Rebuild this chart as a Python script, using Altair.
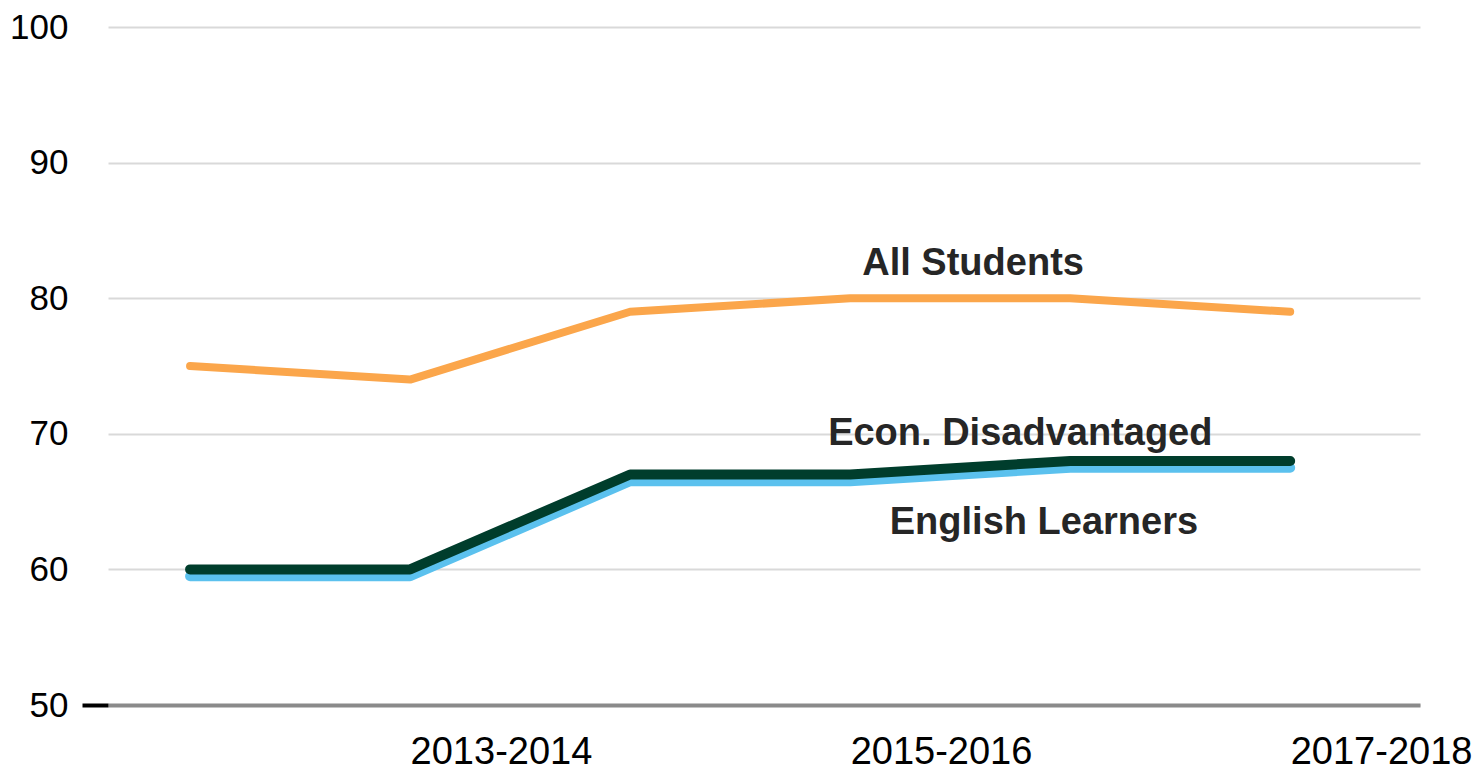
import altair as alt
import pandas as pd

categories = ["2012-2013", "2013-2014", "2014-2015", "2015-2016", "2016-2017", "2017-2018"]
all_students = [75, 74, 79, 80, 80, 79]
econ_disadv = [60, 60, 67, 67, 68, 68]
english_learners = [59.5, 59.5, 66.5, 66.5, 67.5, 67.5]

series_names = ["All Students", "English Learners", "Econ. Disadvantaged"]
series_values = [all_students, english_learners, econ_disadv]
series_colors = ["#FBA64B", "#5BC1EE", "#003D2C"]
series_widths = [8, 10, 10]

label_names = ["All Students", "Econ. Disadvantaged", "English Learners"]
label_x = [3.055, 2.9, 3.18]
label_y = [82.5, 70, 63.4]

rows = []
for name, vals in zip(series_names, series_values):
    for i, (c, v) in enumerate(zip(categories, vals)):
        rows.append({"series": name, "idx": i, "year": c, "value": v})
df = pd.DataFrame(rows)

cat_js = "[" + ",".join("'%s'" % c for c in categories) + "]"

FONT = "Liberation Sans, Arial, sans-serif"

x_scale = alt.Scale(domain=[-0.373, 5.59], nice=False, zero=False)
y_scale = alt.Scale(domain=[50, 100], nice=False, zero=False)

x_axis = alt.Axis(values=[1, 3, 5], labelExpr=cat_js + "[datum.value]", title=None,
                  grid=False, ticks=False, labelAlign="left", labelBaseline="top",
                  labelPadding=28, labelFont=FONT, labelFontSize=38, labelLimit=0,
                  labelColor="#000000", domainColor="#8a8a8a", domainWidth=4,
                  labelFlush=False, labelOverlap=False)
y_axis = alt.Axis(values=[50, 60, 70, 80, 90, 100], title=None, grid=True,
                  gridColor="#d9d9d9", gridWidth=2, domain=False,
                  tickSize=26, tickWidth=4,
                  tickColor={"condition": {"test": "datum.value == 50", "value": "#000000"}, "value": "transparent"},
                  labelPadding=14, labelFont=FONT, labelFontSize=35, labelLimit=0,
                  labelColor="#000000")

layers = []
for name, color, w in zip(series_names, series_colors, series_widths):
    sub = df[df["series"] == name]
    layer = alt.Chart(sub).mark_line(color=color, strokeWidth=w, strokeCap="round", strokeJoin="round").encode(
        x=alt.X("idx:Q", scale=x_scale, axis=x_axis),
        y=alt.Y("value:Q", scale=y_scale, axis=y_axis),
    )
    layers.append(layer)

lab_df = pd.DataFrame({"label": label_names, "x": label_x, "y": label_y})
text = alt.Chart(lab_df).mark_text(align="left", baseline="middle", font=FONT,
                                   fontWeight="bold", fontSize=38, color="#262626").encode(
    x=alt.X("x:Q", scale=x_scale, axis=x_axis),
    y=alt.Y("y:Q", scale=y_scale, axis=y_axis),
    text="label:N",
)

chart = alt.layer(*layers, text).properties(
    width=1312, height=678,
    background="white",
    autosize=alt.AutoSizeParams(type="none"),
    padding={"left": 100, "top": 19, "right": 56, "bottom": 68},
).configure_view(stroke="transparent", strokeWidth=0)

chart.save("out.html", embed_options={"renderer": "svg", "actions": False})
